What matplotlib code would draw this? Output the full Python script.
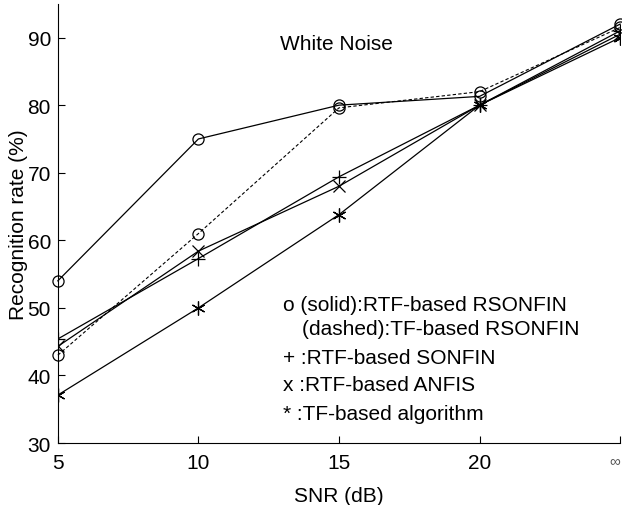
import matplotlib
matplotlib.use("Agg")
from matplotlib import pyplot as plt

plt.rcParams["font.family"] = ["Liberation Sans", "DejaVu Sans"]

snr = [5, 10, 15, 20, 25]
snr_labels = ["5", "10", "15", "20", "\u221e"]
rtf_rsonfin = [54, 75, 80, 81.3, 92]
tf_rsonfin = [43, 61, 79.6, 82, 91.5]
rtf_sonfin = [45.4, 57.3, 69.4, 80, 91]
rtf_anfis = [44.3, 58.4, 68, 80, 90.5]
tf_alg = [37.1, 50, 63.8, 80, 90]

fig = plt.figure(figsize=(6.22, 5.06), dpi=100)
ax = fig.add_axes([0.093, 0.1225, 0.904, 0.868])

lw = 0.9
ax.plot(snr, rtf_rsonfin, color="black", lw=lw, marker="o", ms=8, mfc="none", mew=0.9, clip_on=False)
ax.plot(snr, tf_rsonfin, color="black", lw=0.8, ls=(0, (3, 2)), marker="o", ms=8, mfc="none", mew=0.9, clip_on=False)
ax.plot(snr, rtf_sonfin, color="black", lw=lw, marker="+", ms=10, mew=0.9)
ax.plot(snr, rtf_anfis, color="black", lw=lw, marker="x", ms=8, mew=0.9)
ax.plot(snr, tf_alg, color="black", lw=lw, marker=(6, 2, 0), ms=10, mew=0.9)

ax.set_xlim(5, 25)
ax.set_ylim(30, 95)
ax.set_xticks(snr)
ax.set_xticklabels(snr_labels)
ax.set_yticks([30, 40, 50, 60, 70, 80, 90])
ax.tick_params(direction="in", length=5, labelsize=15, pad=5)
ax.tick_params(axis="x", pad=7)
lbls = ax.get_xticklabels()
lbls[-1].set_fontsize(11)
lbls[-1].set_color("#555555")
lbls[-1].set_ha("right")
for s in ["top", "right"]:
    ax.spines[s].set_visible(False)

ax.set_xlabel("SNR (dB)", fontsize=15, labelpad=10)
ax.set_ylabel("Recognition rate (%)", fontsize=15, labelpad=0)

ax.text(12.9, 89.1, "White Noise", fontsize=15, va="center")
ax.text(13.0, 50.5, "o (solid):RTF-based RSONFIN", fontsize=15, va="center")
ax.text(13.7, 47.0, "(dashed):TF-based RSONFIN", fontsize=15, va="center")
ax.text(13.0, 42.7, "+ :RTF-based SONFIN", fontsize=15, va="center")
ax.text(13.0, 38.6, "x :RTF-based ANFIS", fontsize=15, va="center")
ax.text(13.0, 34.4, "* :TF-based algorithm", fontsize=15, va="center")

fig.savefig("out.png", dpi=100)
